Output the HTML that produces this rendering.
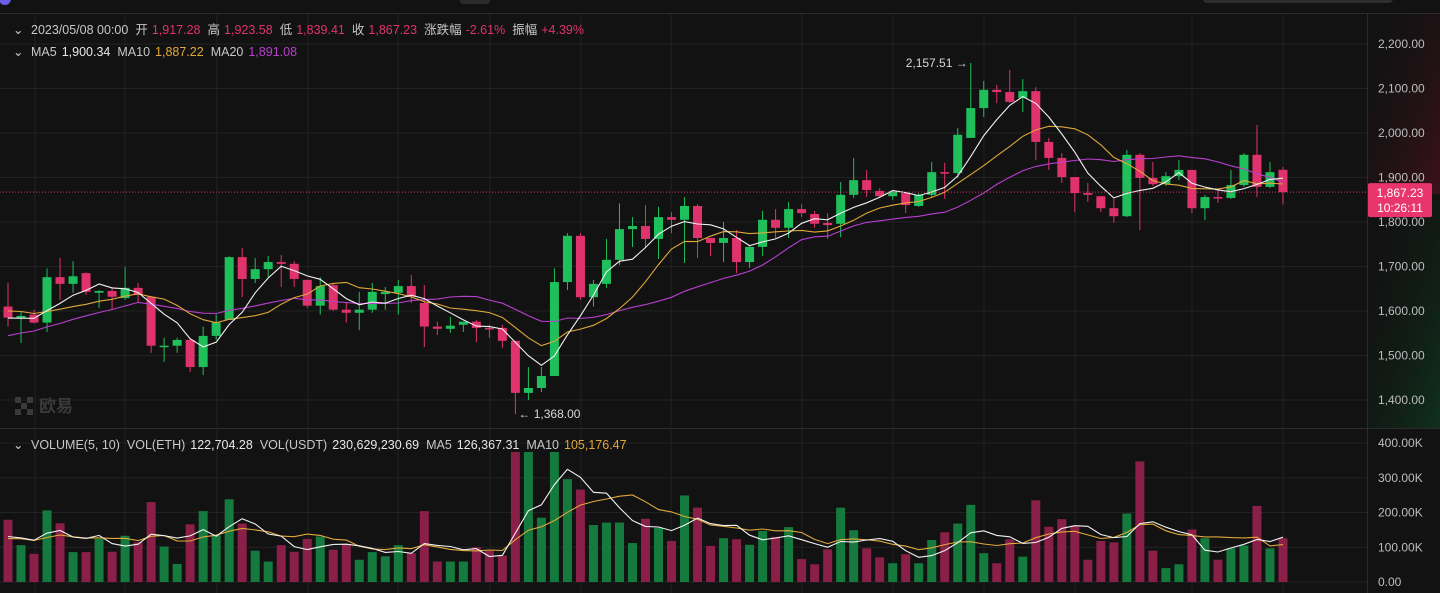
<!DOCTYPE html>
<html><head><meta charset="utf-8">
<style>
html,body{margin:0;padding:0;background:#121212;}
body{width:1440px;height:593px;overflow:hidden;position:relative;font-family:"Liberation Sans","Noto Sans CJK SC",sans-serif;}
svg{position:absolute;left:0;top:0;}
.lg{font-size:12.5px;fill:#c8c8c8;}
</style></head>
<body>
<svg id="chart" width="1440" height="593">
<defs>
<linearGradient id="axR" x1="0" y1="0" x2="1" y2="1">
<stop offset="0" stop-color="#121212" stop-opacity="0"/>
<stop offset="1" stop-color="#5a1020" stop-opacity="0.6"/>
</linearGradient>
<linearGradient id="axG" x1="0" y1="0" x2="1" y2="1">
<stop offset="0" stop-color="#121212" stop-opacity="0"/>
<stop offset="1" stop-color="#0d4a25" stop-opacity="0.55"/>
</linearGradient>
<clipPath id="volClip"><rect x="0" y="452" width="1367" height="140"/></clipPath>
<clipPath id="priceClip"><rect x="0" y="14" width="1367" height="414"/></clipPath>
</defs>
<rect x="1368" y="14" width="72" height="180" fill="url(#axR)"/>
<rect x="1368" y="200" width="72" height="228" fill="url(#axG)"/>
<circle cx="5" cy="-1" r="6" fill="#6c5ce7"/>
<rect x="460" y="-6" width="30" height="10" rx="3" fill="#2a2a2a"/>
<rect x="1203" y="-8" width="190" height="11" rx="4" fill="#2e2e2e"/>
<line x1="0" y1="13.5" x2="1440" y2="13.5" stroke="#2b2b2b"/>
<line x1="0" y1="428.5" x2="1440" y2="428.5" stroke="#2b2b2b"/>
<line x1="1367.5" y1="14" x2="1367.5" y2="593" stroke="#2b2b2b"/>
<g id="grid"></g>
<g id="watermark">
<rect x="15" y="397" width="6" height="6" fill="#3a3a3a"/><rect x="27" y="397" width="6" height="6" fill="#3a3a3a"/>
<rect x="21" y="403" width="6" height="6" fill="#3a3a3a"/><rect x="15" y="409" width="6" height="6" fill="#3a3a3a"/><rect x="27" y="409" width="6" height="6" fill="#3a3a3a"/>
<text x="39" y="412" font-size="17" fill="#3a3a3a" font-weight="bold">欧易</text>
</g>
<g id="price" clip-path="url(#priceClip)"></g>
<g id="vol" clip-path="url(#volClip)"></g>
<g id="axis"></g>
<g id="legend">
<text class="lg" x="13" y="34">⌄</text>
<text class="lg" x="31" y="34">2023/05/08 00:00<tspan dx="7">开</tspan><tspan dx="4" fill="#e0336c">1,917.28</tspan><tspan dx="7">高</tspan><tspan dx="4" fill="#e0336c">1,923.58</tspan><tspan dx="7">低</tspan><tspan dx="4" fill="#e0336c">1,839.41</tspan><tspan dx="7">收</tspan><tspan dx="4" fill="#e0336c">1,867.23</tspan><tspan dx="7">涨跌幅</tspan><tspan dx="4" fill="#e0336c">-2.61%</tspan><tspan dx="7">振幅</tspan><tspan dx="4" fill="#e0336c">+4.39%</tspan></text>
<text class="lg" x="13" y="56">⌄</text>
<text class="lg" x="31" y="56">MA5<tspan dx="5" fill="#e8e8e8">1,900.34</tspan><tspan dx="7">MA10</tspan><tspan dx="5" fill="#e0a83a">1,887.22</tspan><tspan dx="7">MA20</tspan><tspan dx="5" fill="#b83fcf">1,891.08</tspan></text>
<text class="lg" x="13" y="449">⌄</text>
<text class="lg" x="31" y="449">VOLUME(5, 10)<tspan dx="7">VOL(ETH)</tspan><tspan dx="5" fill="#e8e8e8">122,704.28</tspan><tspan dx="7">VOL(USDT)</tspan><tspan dx="5" fill="#e8e8e8">230,629,230.69</tspan><tspan dx="7">MA5</tspan><tspan dx="5" fill="#e8e8e8">126,367.31</tspan><tspan dx="7">MA10</tspan><tspan dx="5" fill="#e0a83a">105,176.47</tspan></text>
</g>
</svg>
<script>
const opens=[1610,1585,1592,1574,1676,1661,1685,1641,1645,1629,1652,1632,1519,1522,1535,1474,1544,1580,1721,1672,1694,1710,1706,1670,1612,1658,1603,1596,1603,1638,1641,1656,1618,1565,1560,1569,1576,1562,1562,1533,1416,1427,1454,1665,1769,1631,1661,1715,1784,1791,1762,1811,1805,1836,1764,1753,1764,1710,1744,1805,1787,1829,1818,1798,1796,1861,1894,1870,1858,1865,1836,1861,1912,1910,1989,2056,2097,2092,2079,2094,1980,1944,1901,1865,1858,1831,1813,1951,1899,1885,1903,1917,1831,1856,1854,1883,1951,1879,1917.28];
const highs=[1663,1598,1603,1696,1719,1712,1687,1647,1654,1699,1663,1634,1540,1540,1540,1565,1592,1723,1741,1719,1724,1726,1712,1670,1676,1663,1618,1643,1663,1654,1670,1681,1658,1576,1587,1576,1580,1569,1569,1533,1474,1474,1696,1775,1775,1670,1762,1842,1811,1838,1834,1822,1856,1840,1764,1800,1782,1746,1825,1829,1845,1840,1825,1820,1890,1944,1917,1876,1872,1867,1865,1935,1933,2011,2157.51,2117,2108,2142,2121,2103,1989,1955,1901,1888,1858,1852,1962,1955,1935,1912,1939,1917,1861,1872,1917,1955,2018,1935,1923.58];
const lows=[1565,1528,1572,1553,1625,1641,1636,1607,1603,1625,1618,1506,1486,1506,1463,1456,1535,1580,1631,1663,1676,1654,1654,1607,1592,1600,1574,1557,1596,1603,1592,1618,1519,1546,1551,1553,1530,1540,1517,1368,1400,1418,1454,1647,1625,1610,1652,1703,1744,1744,1717,1775,1708,1719,1724,1710,1685,1697,1724,1764,1764,1811,1787,1762,1766,1854,1856,1854,1850,1820,1834,1856,1852,1899,1989,2036,2067,2067,2047,1939,1917,1888,1822,1845,1822,1798,1811,1782,1881,1881,1894,1820,1804,1843,1852,1879,1856,1876,1839.41];
const closes=[1585,1589,1574,1676,1661,1678,1643,1645,1632,1652,1636,1522,1522,1535,1474,1544,1574,1721,1672,1694,1710,1706,1672,1612,1656,1603,1596,1603,1643,1643,1656,1632,1565,1560,1567,1576,1562,1560,1533,1416,1427,1454,1665,1769,1631,1661,1715,1784,1791,1762,1811,1805,1836,1764,1753,1764,1710,1744,1805,1787,1829,1820,1796,1793,1861,1894,1872,1858,1868,1838,1861,1912,1910,1996,2056,2097,2092,2070,2094,1980,1944,1901,1865,1861,1831,1813,1951,1899,1885,1903,1917,1831,1856,1854,1883,1951,1879,1912,1867.23];
const volumes=[179,106,81,206,169,86,86,124,87,133,114,230,102,52,166,204,135,238,168,90,59,106,87,124,131,93,109,64,86,74,106,83,204,59,59,59,100,90,76,380,380,185,380,296,266,164,171,171,112,182,156,118,249,214,104,126,123,107,147,130,158,66,51,94,214,149,97,71,54,80,54,121,143,168,222,83,54,123,73,235,159,181,162,64,118,114,197,347,90,40,51,151,126,64,97,105,219,97,126];
const prevCloses=[1470,1480,1495,1505,1490,1485,1500,1495,1490,1480,1600,1620,1630,1610,1620,1590,1575,1590,1580];
const prevVols=[110,130,120,95,140,125,115,105,130];
const priceTicks=[2200,2100,2000,1900,1800,1700,1600,1500,1400];
const volTicks=[400,300,200,100,0];
const volTickLabels=["400.00K","300.00K","200.00K","100.00K","0.00"];
const gridXs=[35,125,217,308,398,490,581,671,802,893,984,1075,1192,1283];

const NS="http://www.w3.org/2000/svg";
const X0=8, DX=13.01;
function xAt(i){return X0+i*DX;}
function yP(p){return 44+(2200-p)*0.445;}
function yV(v){return 582-v*0.3475;}
function mk(tag,attrs,parent){const e=document.createElementNS(NS,tag);for(const k in attrs)e.setAttribute(k,attrs[k]);parent.appendChild(e);return e;}
const grid=document.getElementById('grid'),price=document.getElementById('price'),vol=document.getElementById('vol'),axis=document.getElementById('axis');
const UP="#1fbf5c",DN="#e0336c",VUP="#157a3d",VDN="#8a1f47";

priceTicks.forEach(t=>{
  const l=mk('line',{x1:0,x2:1367,y1:yP(t),y2:yP(t),stroke:'#222'},grid);
  
  
  const tx=mk('text',{x:1378,y:yP(t)+4,'font-size':12,fill:'#bdbdbd'},axis);
  tx.textContent=t.toLocaleString('en-US',{minimumFractionDigits:2});
  
  
});
volTicks.forEach((t,k)=>{
  const l=mk('line',{x1:0,x2:1367,y1:yV(t),y2:yV(t),stroke:'#222'},grid);
  
  
  const tx=mk('text',{x:1378,y:yV(t)+4,'font-size':12,fill:'#bdbdbd'},axis);
  tx.textContent=volTickLabels[k];
  
  
});
gridXs.forEach(x=>{
  const l=mk('line',{x1:x,x2:x,y1:14,y2:593,stroke:'#222'},grid);
  
  
});

closes.forEach((c,i)=>{
  const o=opens[i],up=c>=o,x=xAt(i);
  const w=mk('line',{x1:x,x2:x,y1:yP(highs[i]),y2:yP(lows[i]),stroke:up?UP:DN,'stroke-width':1},price);
  
  
  const t=Math.min(yP(o),yP(c)),h=Math.max(1.5,Math.abs(yP(o)-yP(c)));
  const b=mk('rect',{x:x-4.5,y:t,width:9,height:h,fill:up?UP:DN},price);
  
  
  const vb=mk('rect',{x:x-4.5,y:yV(volumes[i]),width:9,height:582-yV(volumes[i]),fill:up?VUP:VDN},vol);
  
  
});

function ma(series,prev,n){const all=prev.concat(series),off=prev.length;return series.map((_,i)=>{let s=0,c=0;for(let k=Math.max(0,i+off-n+1);k<=i+off;k++){s+=all[k];c++;}return s/c;});}
function line(vals,yf,color,parent,name){
  const d=vals.map((v,i)=>(i?'L':'M')+xAt(i).toFixed(1)+' '+yf(v).toFixed(1)).join(' ');
  const p=mk('path',{d:d,fill:'none',stroke:color,'stroke-width':1.1},parent);
  
  
}
line(ma(closes,prevCloses,20),yP,'#b83fcf',price,'ma20-line');
line(ma(closes,prevCloses,10),yP,'#e0a83a',price,'ma10-line');
line(ma(closes,prevCloses,5),yP,'#f2f2f2',price,'ma5-line');
line(ma(volumes,prevVols,10),yV,'#e0a83a',vol,'volume-ma10-line');
line(ma(volumes,prevVols,5),yV,'#f2f2f2',vol,'volume-ma5-line');

const last=closes[closes.length-1];
const cl=mk('line',{x1:0,x2:1367,y1:yP(last),y2:yP(last),stroke:'#e0336c','stroke-dasharray':'1 2','stroke-width':1},axis);


const cb=mk('rect',{x:1368,y:yP(last)-9,width:64,height:34,rx:2,fill:'#e8356d'},axis);


const ct=mk('text',{x:1400,y:yP(last)+5,'font-size':12,fill:'#fff','text-anchor':'middle'},axis);
ct.textContent=last.toLocaleString('en-US',{minimumFractionDigits:2});


const cd=mk('text',{x:1400,y:yP(last)+20,'font-size':12,fill:'#fff','text-anchor':'middle'},axis);
cd.textContent='10:26:11';



let hi=0,lo=0;highs.forEach((v,i)=>{if(v>highs[hi])hi=i;});lows.forEach((v,i)=>{if(v<lows[lo])lo=i;});
const mt=mk('text',{x:xAt(hi)-3,y:yP(highs[hi])+4,'font-size':12,fill:'#d8d8d8','text-anchor':'end'},axis);
mt.textContent=highs[hi].toLocaleString('en-US',{minimumFractionDigits:2})+' →';


const nt=mk('text',{x:xAt(lo)+3,y:yP(lows[lo])+4,'font-size':12,fill:'#d8d8d8'},axis);
nt.textContent='← '+lows[lo].toLocaleString('en-US',{minimumFractionDigits:2});


</script>
</body></html>
